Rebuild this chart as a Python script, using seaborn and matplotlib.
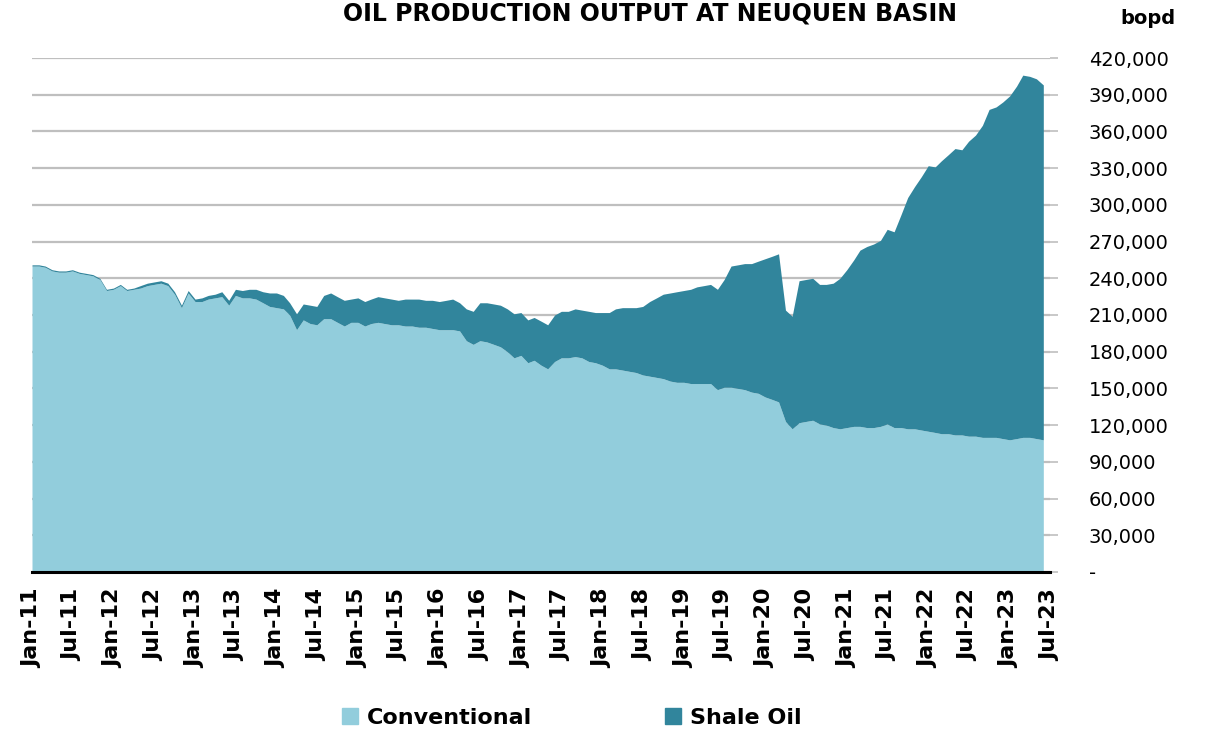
import numpy as np
import pandas as pd
import matplotlib
matplotlib.use("Agg")
import matplotlib.pyplot as plt
from matplotlib.patches import Patch
from matplotlib.ticker import FuncFormatter
import seaborn as sns

# --- monthly output, thousand bopd, Jan-11 .. Jun-23 ---
conventional_k = [
    250, 250, 249, 246, 245, 245, 246, 244, 243, 242,
    239, 230, 231, 234, 230, 231, 232, 234, 235, 236,
    234, 227, 216, 228, 221, 221, 223, 224, 225, 218,
    226, 224, 224, 223, 220, 217, 216, 215, 210, 198,
    206, 203, 202, 207, 207, 204, 201, 204, 204, 201,
    203, 204, 203, 202, 202, 201, 201, 200, 200, 199,
    198, 198, 198, 197, 189, 186, 189, 188, 186, 184,
    180, 175, 177, 171, 173, 169, 166, 172, 175, 175,
    176, 175, 172, 171, 169, 166, 166, 165, 164, 163,
    161, 160, 159, 158, 156, 155, 155, 154, 154, 154,
    154, 149, 151, 151, 150, 149, 147, 146, 143, 141,
    139, 123, 117, 122, 123, 124, 121, 120, 118, 117,
    118, 119, 119, 118, 118, 119, 121, 118, 118, 117,
    117, 116, 115, 114, 113, 113, 112, 112, 111, 111,
    110, 110, 110, 109, 108, 109, 110, 110, 109, 108,
]
shale_k = [
    1, 1, 1, 1, 1, 1, 1, 1, 1, 1,
    1, 1, 1, 1, 1, 1, 2, 2, 2, 2,
    2, 2, 2, 2, 2, 3, 3, 3, 4, 4,
    5, 6, 7, 8, 9, 11, 12, 11, 10, 13,
    13, 15, 15, 19, 21, 21, 21, 19, 20, 20,
    20, 21, 21, 21, 20, 22, 22, 23, 22, 23,
    23, 24, 25, 23, 26, 27, 31, 32, 33, 34,
    35, 36, 35, 35, 35, 36, 36, 38, 38, 38,
    39, 39, 41, 41, 43, 46, 49, 51, 52, 53,
    56, 61, 65, 69, 72, 74, 75, 77, 79, 80,
    81, 82, 88, 99, 101, 103, 105, 108, 113, 117,
    121, 91, 92, 116, 116, 116, 114, 115, 118, 123,
    129, 136, 144, 148, 150, 152, 159, 160, 174, 189,
    198, 207, 217, 217, 223, 228, 234, 233, 241, 246,
    255, 268, 270, 275, 281, 288, 296, 295, 294, 290,
]
series_names = ["Conventional", "Shale Oil"]
start_month = "2011-01-01"
end_month = "2023-07-01"

months = pd.date_range(start_month, periods=len(conventional_k), freq="MS")
df = pd.DataFrame({
    "month": months,
    "Conventional": np.array(conventional_k) * 1000,
    "Shale Oil": np.array(shale_k) * 1000,
})

sns.set_style("white")
plt.rcParams["font.family"] = ["DejaVu Sans"]
plt.rcParams["text.color"] = "black"
plt.rcParams["xtick.color"] = "black"
plt.rcParams["ytick.color"] = "black"
colors = sns.color_palette(["#92CDDC", "#31859C"])

W, H = 1217, 732
fig = plt.figure(figsize=(W / 100, H / 100), dpi=100)
ax = fig.add_axes([32 / W, 1 - 572 / H, (1050 - 32) / W, (572 - 58) / H])

ax.stackplot(df["month"], df["Conventional"], df["Shale Oil"],
             colors=colors, linewidth=0, zorder=2)

# y axis on the right
ax.set_ylim(0, 420000)
ax.set_yticks(np.arange(0, 420001, 30000))
ax.yaxis.tick_right()
ax.yaxis.set_major_formatter(FuncFormatter(lambda v, p: "-" if v == 0 else f"{v:,.0f}"))
ax.yaxis.grid(True, color="#BFBFBF", linewidth=1.6, zorder=0)
ax.set_axisbelow(True)
ax.tick_params(axis="y", length=6, width=1.2, color="#BFBFBF", pad=22,
               labelsize=14, labelcolor="black")

# x axis: every 6 months
ax.set_xlim(months[0], pd.Timestamp(end_month))
ticks = pd.date_range(start_month, end_month, freq="6MS")
ax.set_xticks(ticks)
ax.set_xticklabels([d.strftime("%b-%y") for d in ticks], rotation=90,
                   fontweight="bold", fontsize=16, color="black")
ax.tick_params(axis="x", length=0, pad=12)

for s in ["left", "top", "right"]:
    ax.spines[s].set_visible(False)
ax.spines["bottom"].set_color("black")
ax.spines["bottom"].set_linewidth(2.2)
ax.spines["bottom"].set_zorder(5)

fig.text(650 / W, 1 - 1 / H, "OIL PRODUCTION OUTPUT AT NEUQUEN BASIN",
         ha="center", va="top", fontsize=17, fontweight="bold")
fig.text(1148 / W, 1 - 18 / H, "bopd", ha="center", va="center",
         fontsize=14, fontweight="bold")

handles = [Patch(color=c, label=n) for c, n in zip(colors, series_names)]
fig.legend(handles=handles, loc="center", bbox_to_anchor=(572 / W, 1 - 718 / H),
           ncol=2, frameon=False, prop={"weight": "bold", "size": 16},
           handlelength=0.7, handleheight=0.7, handletextpad=0.4, columnspacing=6)

fig.savefig("out.png", dpi=100)
